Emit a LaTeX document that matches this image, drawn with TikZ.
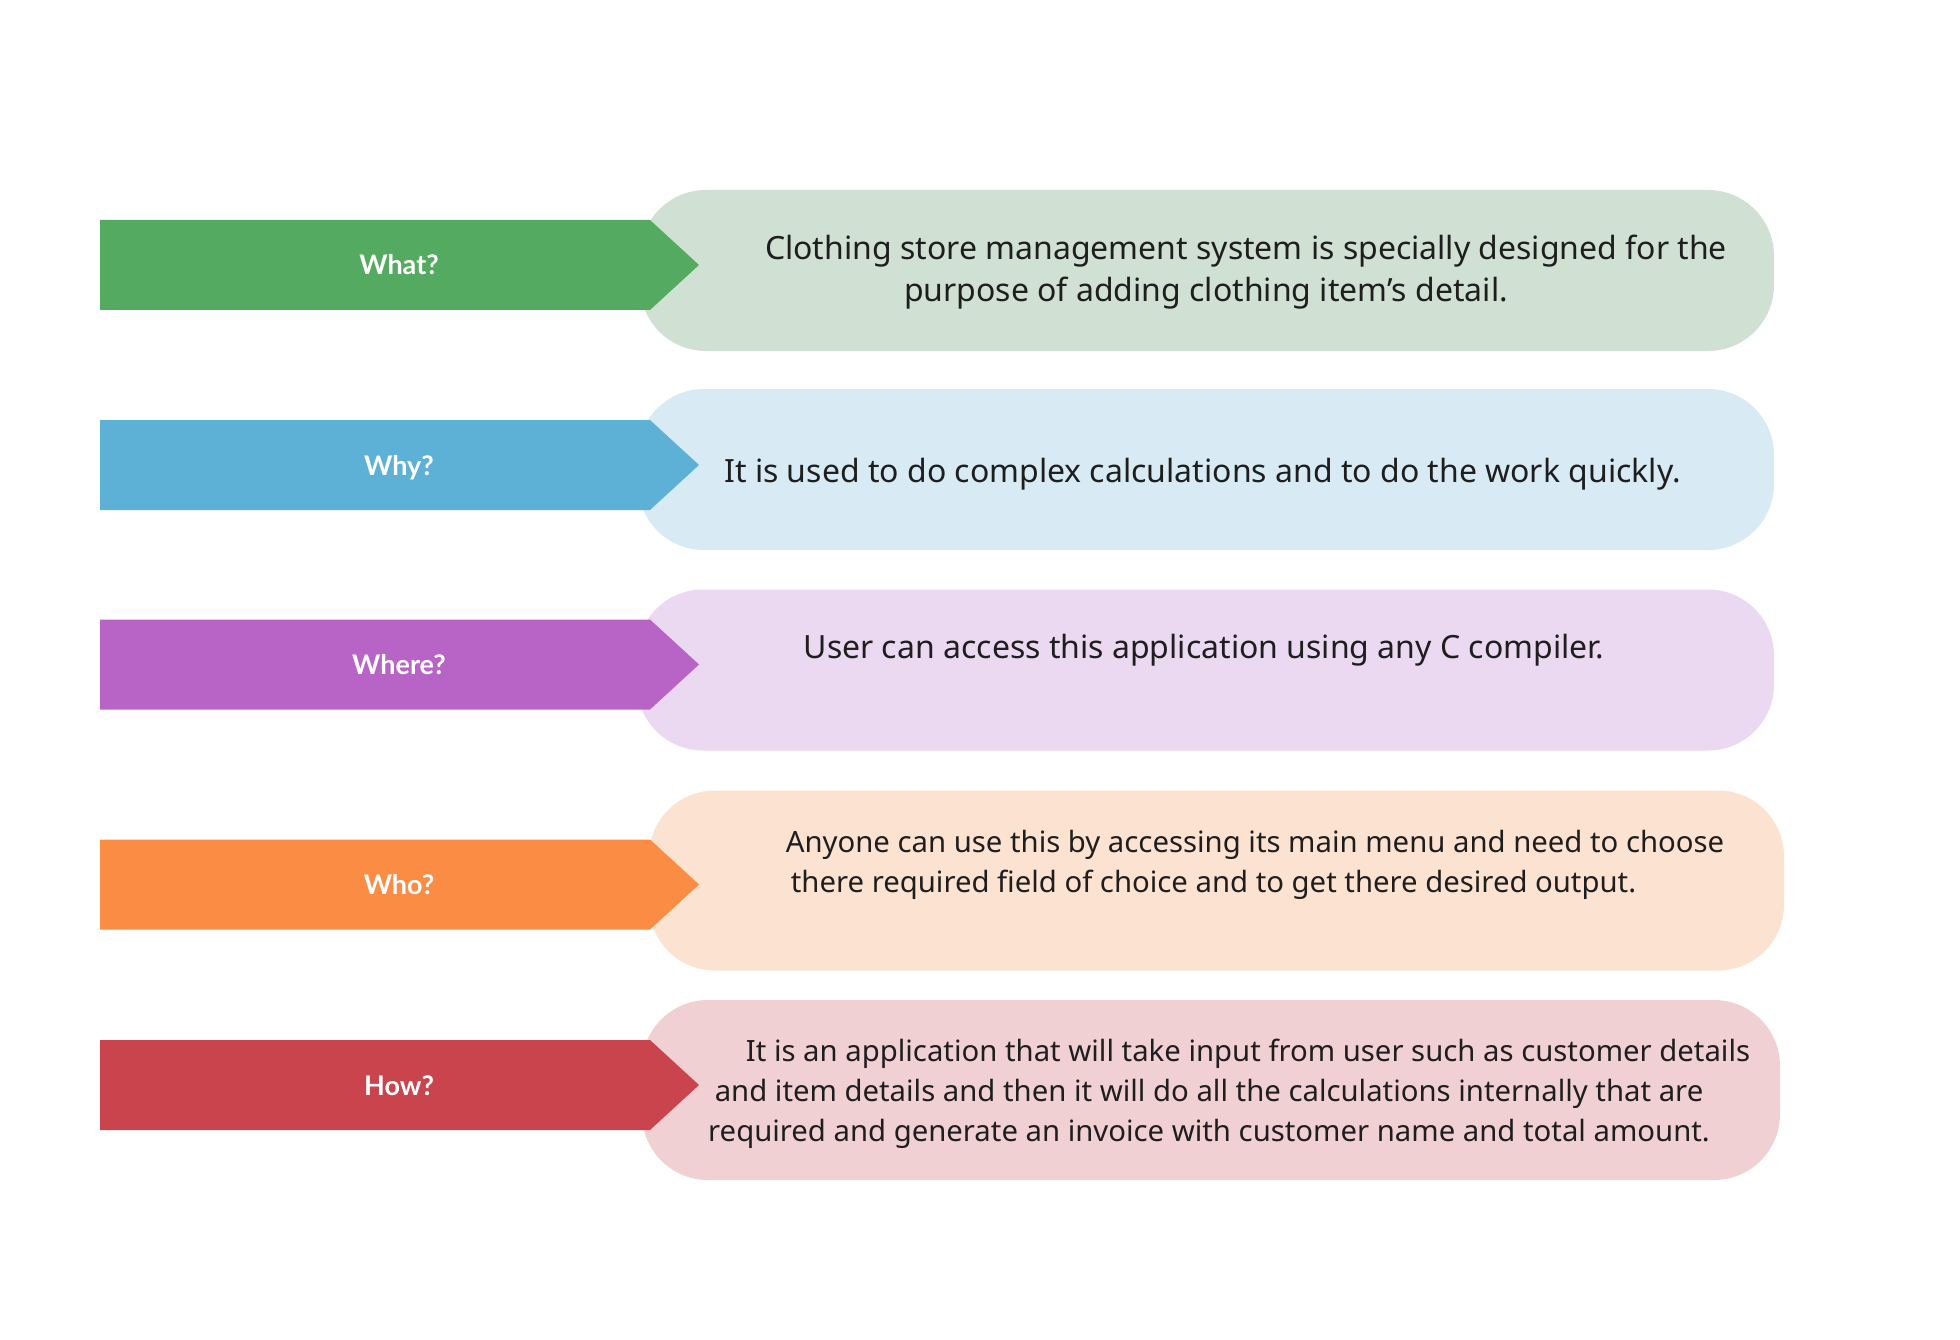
\documentclass[tikz,border=0pt]{standalone}
\usepackage{fontspec}
\setmainfont{Noto Sans}
\newfontfamily\labelfont{Lato}
\definecolor{garrow}{HTML}{55AA61}
\definecolor{gbox}{HTML}{D0E0D3}
\definecolor{barrow}{HTML}{5EB1D6}
\definecolor{bbox}{HTML}{D8EBF4}
\definecolor{parrow}{HTML}{B864C7}
\definecolor{pbox}{HTML}{EBD8F1}
\definecolor{oarrow}{HTML}{FA8C43}
\definecolor{obox}{HTML}{FCE2D0}
\definecolor{rarrow}{HTML}{CA444E}
\definecolor{rbox}{HTML}{F1D0D3}
\definecolor{bodytext}{HTML}{1E1E1E}
\begin{document}
\begin{tikzpicture}[x=1pt,y=-1pt,
  infobox/.style={rounded corners=66pt},
  taglabel/.style={anchor=base,text=white,inner sep=0pt,font=\labelfont\bfseries\fontsize{27}{30}\selectfont},
  bodyline/.style={anchor=base,text=bodytext,inner sep=0pt,font=\fontsize{32}{41}\selectfont},
  smallline/.style={anchor=base,text=bodytext,inner sep=0pt,font=\fontsize{29.3}{40}\selectfont}]
\useasboundingbox[fill=white] (0,0) rectangle (1960,1340);
% boxes
\fill[gbox,infobox] (640,190) rectangle (1774,351);
\fill[bbox,infobox] (638,389) rectangle (1774,550);
\fill[pbox,infobox] (637,589.5) rectangle (1774,750.5);
\fill[obox,infobox] (649,790.5) rectangle (1784,970.5);
\fill[rbox,infobox] (642,1000) rectangle (1780,1180);
% arrows
\fill[garrow] (100,220) -- (650,220) -- (699,265) -- (650,310) -- (100,310) -- cycle;
\fill[barrow] (100,420) -- (650,420) -- (699,465) -- (650,510) -- (100,510) -- cycle;
\fill[parrow] (100,619.5) -- (650,619.5) -- (699,664.5) -- (650,709.5) -- (100,709.5) -- cycle;
\fill[oarrow] (100,839.5) -- (650,839.5) -- (699,884.5) -- (650,929.5) -- (100,929.5) -- cycle;
\fill[rarrow] (100,1040) -- (650,1040) -- (699,1085) -- (650,1130) -- (100,1130) -- cycle;
% labels
\node[taglabel] (lwhat) at (399,275) {What?};
\node[taglabel] (lwhy) at (399,475) {Why?};
\node[taglabel] (lwhere) at (399,674.5) {Where?};
\node[taglabel] (lwho) at (399,894.5) {Who?};
\node[taglabel] (lhow) at (399,1095) {How?};
% texts
\node[bodyline] (what1) at (1246,260) {Clothing store management system is specially designed for the};
\node[bodyline] (what2) at (1206,302) {purpose of adding clothing item’s detail.};
\node[bodyline] (why1) at (1202.5,482.5) {It is used to do complex calculations and to do the work quickly.};
\node[bodyline] (where1) at (1204,658) {User can access this application using any C compiler.};
\node[smallline] (who1) at (1255,852) {Anyone can use this by accessing its main menu and need to choose};
\node[smallline] (who2) at (1213.5,892) {there required field of choice and to get there desired output.};
\node[smallline] (how1) at (1248,1061) {It is an application that will take input from user such as customer details};
\node[smallline] (how2) at (1209,1101) {and item details and then it will do all the calculations internally that are};
\node[smallline] (how3) at (1209,1141) {required and generate an invoice with customer name and total amount.};
\end{tikzpicture}
\end{document}
